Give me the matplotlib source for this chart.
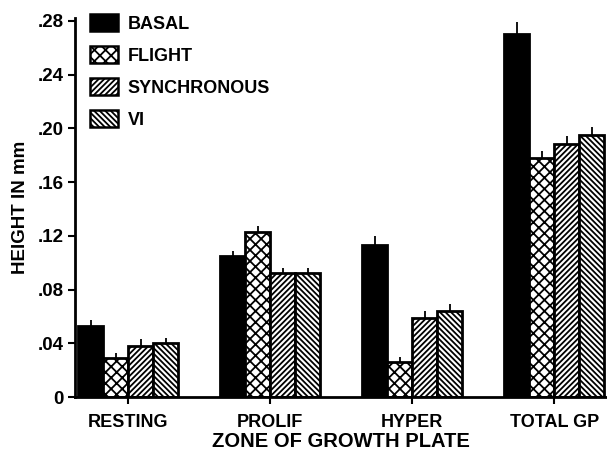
import numpy as np
import matplotlib
matplotlib.use("Agg")
import matplotlib.pyplot as plt
from matplotlib.patches import Patch

zones = ["RESTING", "PROLIF", "HYPER", "TOTAL GP"]
groups = ["BASAL", "FLIGHT", "SYNCHRONOUS", "VI"]

# mean height in mm, one list per group
basal = [0.053, 0.105, 0.113, 0.270]
flight = [0.029, 0.123, 0.026, 0.178]
synchronous = [0.038, 0.092, 0.059, 0.188]
vi = [0.040, 0.092, 0.064, 0.195]

# upper error (SE), drawn upward only
basal_err = [0.004, 0.004, 0.007, 0.009]
flight_err = [0.004, 0.004, 0.004, 0.005]
synchronous_err = [0.005, 0.004, 0.005, 0.006]
vi_err = [0.004, 0.004, 0.005, 0.006]

yticks = [0, 0.04, 0.08, 0.12, 0.16, 0.20, 0.24, 0.28]
ytick_labels = ["0", ".04", ".08", ".12", ".16", ".20", ".24", ".28"]

plt.rcParams["font.family"] = ["Liberation Sans", "DejaVu Sans"]
plt.rcParams["font.weight"] = "bold"
plt.rcParams["hatch.linewidth"] = 1.3
plt.rcParams["hatch.color"] = "black"

fig = plt.figure(figsize=(6.07, 4.59), dpi=100)
ax = fig.add_axes([0.1236, 0.135, 0.8764, 0.8253])

series = [basal, flight, synchronous, vi]
errs = [basal_err, flight_err, synchronous_err, vi_err]
styles = [
    dict(facecolor="black", hatch=None),
    dict(facecolor="white", hatch="xxx"),
    dict(facecolor="white", hatch="//////"),
    dict(facecolor="white", hatch="\\\\\\\\\\\\"),
]

x = np.arange(len(zones))
w = 0.176
offsets = (np.arange(4) - 1.5) * w

for vals, err, st, off in zip(series, errs, styles, offsets):
    ax.bar(x + off, vals, width=w, edgecolor="black", linewidth=2.0,
           facecolor=st["facecolor"], hatch=st["hatch"], zorder=2)
    ax.errorbar(x + off, vals, yerr=[np.zeros(len(vals)), err], fmt="none",
                ecolor="black", elinewidth=1.3, capsize=0, zorder=3)

ax.set_xlim(-0.373, 3.37)
ax.set_ylim(0, 0.282)
ax.set_yticks(yticks)
ax.set_yticklabels(ytick_labels, fontsize=13.5, fontweight="bold")
ax.set_xticks(x)
ax.set_xticklabels(zones, fontsize=13, fontweight="bold")
ax.tick_params(axis="both", direction="out", length=5, width=1.5, pad=3)
ax.tick_params(axis="x", pad=7)

for s in ["top", "right"]:
    ax.spines[s].set_visible(False)
ax.spines["left"].set_linewidth(2.0)
ax.spines["bottom"].set_linewidth(2.0)

ax.set_ylabel("HEIGHT IN mm", fontsize=13.5, fontweight="bold", labelpad=6)
ax.set_xlabel("ZONE OF GROWTH PLATE", fontsize=14.5, fontweight="bold", labelpad=1)

handles = [Patch(facecolor=st["facecolor"], edgecolor="black", linewidth=1.8,
                 hatch=st["hatch"], label=g) for st, g in zip(styles, groups)]
ax.legend(handles=handles, loc="upper left", bbox_to_anchor=(0.014, 1.03),
          frameon=False, fontsize=13, handlelength=1.55, handleheight=1.05,
          handletextpad=0.55, labelspacing=0.75, borderaxespad=0)

fig.savefig("out.png", dpi=100)
